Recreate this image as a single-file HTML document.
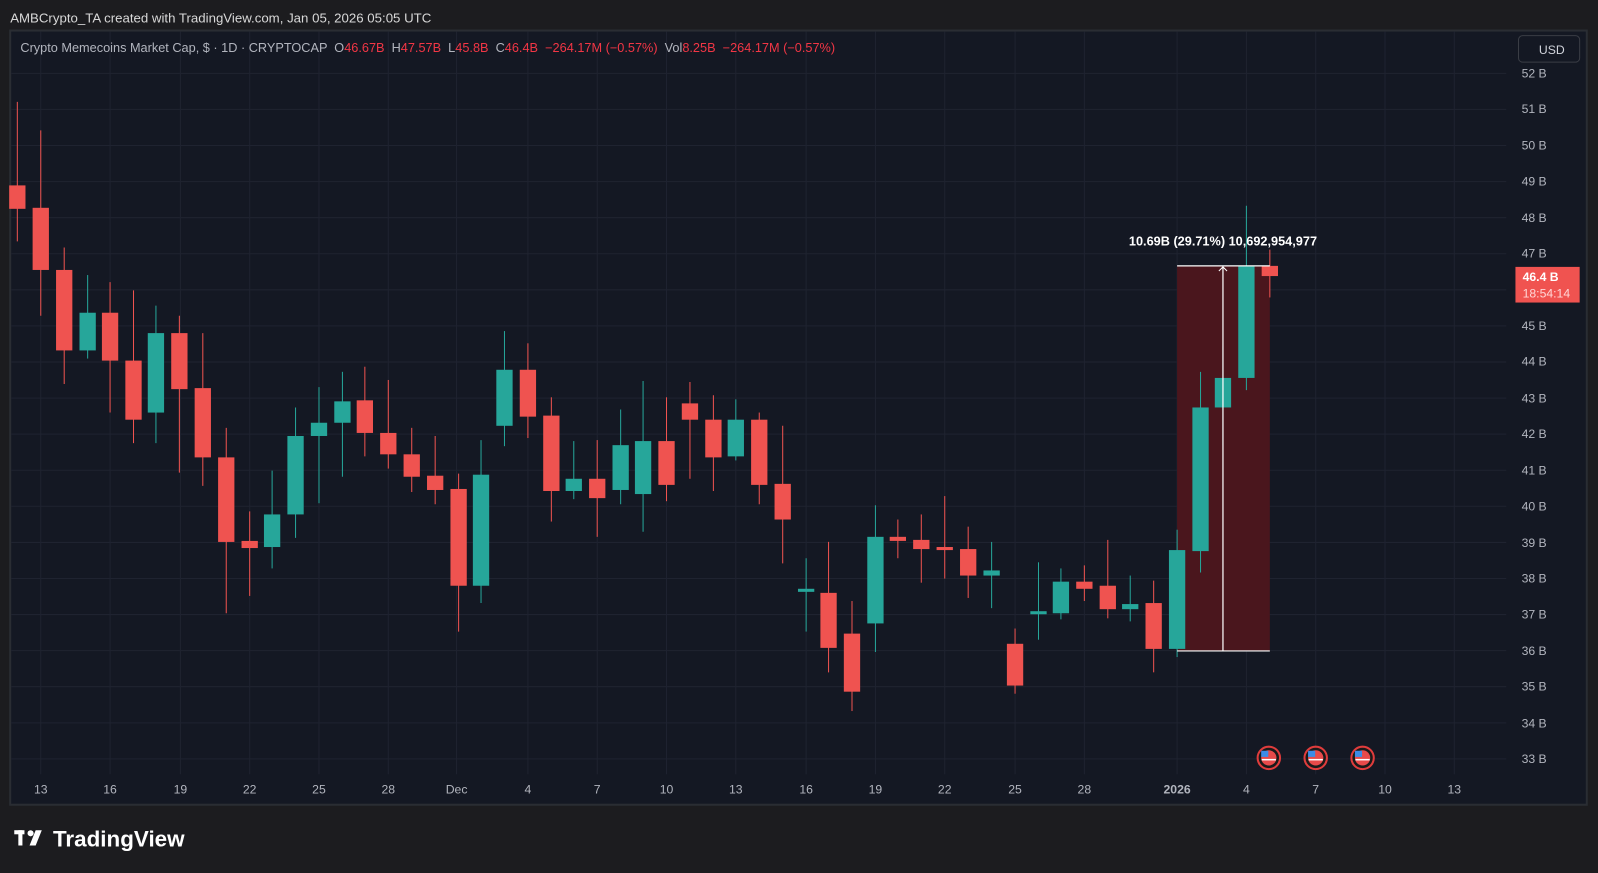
<!DOCTYPE html>
<html><head><meta charset="utf-8"><style>
html,body{margin:0;padding:0;background:#1c1c1f;width:1598px;height:873px;overflow:hidden}
svg{display:block}
text{font-family:"Liberation Sans",sans-serif}
</style></head><body>
<svg width="1598" height="873" viewBox="0 0 1568 857" preserveAspectRatio="none" xmlns="http://www.w3.org/2000/svg">
<rect x="0" y="0" width="1568" height="857" fill="#1c1c1f"/>
<text x="10" y="22" fill="#d8d8d8" font-size="13">AMBCrypto_TA created with TradingView.com, Jan 05, 2026 05:05 UTC</text>
<rect x="10" y="30" width="1547" height="760" fill="#141823" stroke="#2a2d33" stroke-width="2"/>
<g stroke="#1f2330" stroke-width="1">
<line x1="11" x2="1478" y1="72" y2="72"/><line x1="11" x2="1478" y1="107.4" y2="107.4"/><line x1="11" x2="1478" y1="142.8" y2="142.8"/><line x1="11" x2="1478" y1="178.3" y2="178.3"/><line x1="11" x2="1478" y1="213.7" y2="213.7"/><line x1="11" x2="1478" y1="249.1" y2="249.1"/><line x1="11" x2="1478" y1="284.5" y2="284.5"/><line x1="11" x2="1478" y1="319.9" y2="319.9"/><line x1="11" x2="1478" y1="355.4" y2="355.4"/><line x1="11" x2="1478" y1="390.8" y2="390.8"/><line x1="11" x2="1478" y1="426.2" y2="426.2"/><line x1="11" x2="1478" y1="461.6" y2="461.6"/><line x1="11" x2="1478" y1="497" y2="497"/><line x1="11" x2="1478" y1="532.5" y2="532.5"/><line x1="11" x2="1478" y1="567.9" y2="567.9"/><line x1="11" x2="1478" y1="603.3" y2="603.3"/><line x1="11" x2="1478" y1="638.7" y2="638.7"/><line x1="11" x2="1478" y1="674.1" y2="674.1"/><line x1="11" x2="1478" y1="709.6" y2="709.6"/><line x1="11" x2="1478" y1="745" y2="745"/>
<line x1="40" x2="40" y1="31" y2="760"/><line x1="108" x2="108" y1="31" y2="760"/><line x1="177" x2="177" y1="31" y2="760"/><line x1="245" x2="245" y1="31" y2="760"/><line x1="313" x2="313" y1="31" y2="760"/><line x1="381" x2="381" y1="31" y2="760"/><line x1="448" x2="448" y1="31" y2="760"/><line x1="518" x2="518" y1="31" y2="760"/><line x1="586" x2="586" y1="31" y2="760"/><line x1="654" x2="654" y1="31" y2="760"/><line x1="722" x2="722" y1="31" y2="760"/><line x1="791" x2="791" y1="31" y2="760"/><line x1="859" x2="859" y1="31" y2="760"/><line x1="927" x2="927" y1="31" y2="760"/><line x1="996" x2="996" y1="31" y2="760"/><line x1="1064" x2="1064" y1="31" y2="760"/><line x1="1155" x2="1155" y1="31" y2="760"/><line x1="1223" x2="1223" y1="31" y2="760"/><line x1="1291" x2="1291" y1="31" y2="760"/><line x1="1359" x2="1359" y1="31" y2="760"/><line x1="1427" x2="1427" y1="31" y2="760"/>
</g>
<rect x="1155" y="261" width="91" height="378" fill="#4a161d"/>
<g stroke-width="1">
<g stroke="#ef5350" fill="#ef5350">
<line x1="17" x2="17" y1="100" y2="237"/><rect x="9" y="182" width="16" height="23" stroke="none"/>
<line x1="40" x2="40" y1="128" y2="310"/><rect x="32" y="204" width="16" height="61" stroke="none"/>
<line x1="63" x2="63" y1="243" y2="377"/><rect x="55" y="265" width="16" height="79" stroke="none"/>
<line x1="108" x2="108" y1="277" y2="405"/><rect x="100" y="307" width="16" height="47" stroke="none"/>
<line x1="131" x2="131" y1="285" y2="435"/><rect x="123" y="354" width="16" height="58" stroke="none"/>
<line x1="176" x2="176" y1="310" y2="464"/><rect x="168" y="327" width="16" height="55" stroke="none"/>
<line x1="199" x2="199" y1="327" y2="477"/><rect x="191" y="381" width="16" height="68" stroke="none"/>
<line x1="222" x2="222" y1="420" y2="602"/><rect x="214" y="449" width="16" height="83" stroke="none"/>
<line x1="245" x2="245" y1="502" y2="585"/><rect x="237" y="531" width="16" height="7" stroke="none"/>
<line x1="358" x2="358" y1="360" y2="448"/><rect x="350" y="393" width="16" height="32" stroke="none"/>
<line x1="381" x2="381" y1="373" y2="460"/><rect x="373" y="425" width="16" height="21" stroke="none"/>
<line x1="404" x2="404" y1="420" y2="483"/><rect x="396" y="446" width="16" height="22" stroke="none"/>
<line x1="427" x2="427" y1="428" y2="495"/><rect x="419" y="467" width="16" height="14" stroke="none"/>
<line x1="450" x2="450" y1="465" y2="620"/><rect x="442" y="480" width="16" height="95" stroke="none"/>
<line x1="518" x2="518" y1="337" y2="430"/><rect x="510" y="363" width="16" height="46" stroke="none"/>
<line x1="541" x2="541" y1="390" y2="512"/><rect x="533" y="408" width="16" height="74" stroke="none"/>
<line x1="586" x2="586" y1="432" y2="527"/><rect x="578" y="470" width="16" height="19" stroke="none"/>
<line x1="654" x2="654" y1="390" y2="492"/><rect x="646" y="433" width="16" height="43" stroke="none"/>
<line x1="677" x2="677" y1="375" y2="470"/><rect x="669" y="396" width="16" height="16" stroke="none"/>
<line x1="700" x2="700" y1="388" y2="482"/><rect x="692" y="412" width="16" height="37" stroke="none"/>
<line x1="745" x2="745" y1="405" y2="495"/><rect x="737" y="412" width="16" height="64" stroke="none"/>
<line x1="768" x2="768" y1="418" y2="553"/><rect x="760" y="475" width="16" height="35" stroke="none"/>
<line x1="813" x2="813" y1="532" y2="660"/><rect x="805" y="582" width="16" height="54" stroke="none"/>
<line x1="836" x2="836" y1="590" y2="698"/><rect x="828" y="622" width="16" height="57" stroke="none"/>
<line x1="881" x2="881" y1="510" y2="548"/><rect x="873" y="527" width="16" height="4" stroke="none"/>
<line x1="904" x2="904" y1="505" y2="572"/><rect x="896" y="530" width="16" height="9" stroke="none"/>
<line x1="927" x2="927" y1="487" y2="568"/><rect x="919" y="537" width="16" height="3" stroke="none"/>
<line x1="950" x2="950" y1="517" y2="587"/><rect x="942" y="539" width="16" height="26" stroke="none"/>
<line x1="996" x2="996" y1="617" y2="681"/><rect x="988" y="632" width="16" height="41" stroke="none"/>
<line x1="1064" x2="1064" y1="555" y2="590"/><rect x="1056" y="571" width="16" height="7" stroke="none"/>
<line x1="1087" x2="1087" y1="530" y2="607"/><rect x="1079" y="575" width="16" height="23" stroke="none"/>
<line x1="1132" x2="1132" y1="570" y2="660"/><rect x="1124" y="592" width="16" height="45" stroke="none"/>
<line x1="1246" x2="1246" y1="245" y2="292"/><rect x="1238" y="261" width="16" height="10" stroke="none"/>
</g>
<g stroke="#26a69a" fill="#26a69a">
<line x1="86" x2="86" y1="270" y2="352"/><rect x="78" y="307" width="16" height="37" stroke="none"/>
<line x1="153" x2="153" y1="300" y2="435"/><rect x="145" y="327" width="16" height="78" stroke="none"/>
<line x1="267" x2="267" y1="462" y2="558"/><rect x="259" y="505" width="16" height="32" stroke="none"/>
<line x1="290" x2="290" y1="400" y2="528"/><rect x="282" y="428" width="16" height="77" stroke="none"/>
<line x1="313" x2="313" y1="380" y2="494"/><rect x="305" y="415" width="16" height="13" stroke="none"/>
<line x1="336" x2="336" y1="365" y2="468"/><rect x="328" y="394" width="16" height="21" stroke="none"/>
<line x1="472" x2="472" y1="432" y2="592"/><rect x="464" y="466" width="16" height="109" stroke="none"/>
<line x1="495" x2="495" y1="325" y2="438"/><rect x="487" y="363" width="16" height="55" stroke="none"/>
<line x1="563" x2="563" y1="433" y2="490"/><rect x="555" y="470" width="16" height="12" stroke="none"/>
<line x1="609" x2="609" y1="402" y2="495"/><rect x="601" y="437" width="16" height="44" stroke="none"/>
<line x1="631" x2="631" y1="374" y2="522"/><rect x="623" y="433" width="16" height="52" stroke="none"/>
<line x1="722" x2="722" y1="392" y2="452"/><rect x="714" y="412" width="16" height="36" stroke="none"/>
<line x1="791" x2="791" y1="548" y2="620"/><rect x="783" y="578" width="16" height="3" stroke="none"/>
<line x1="859" x2="859" y1="496" y2="640"/><rect x="851" y="527" width="16" height="85" stroke="none"/>
<line x1="973" x2="973" y1="532" y2="597"/><rect x="965" y="560" width="16" height="5" stroke="none"/>
<line x1="1019" x2="1019" y1="552" y2="628"/><rect x="1011" y="600" width="16" height="3" stroke="none"/>
<line x1="1041" x2="1041" y1="558" y2="608"/><rect x="1033" y="571" width="16" height="31" stroke="none"/>
<line x1="1109" x2="1109" y1="565" y2="610"/><rect x="1101" y="593" width="16" height="5" stroke="none"/>
<line x1="1155" x2="1155" y1="520" y2="645"/><rect x="1147" y="540" width="16" height="97" stroke="none"/>
<line x1="1178" x2="1178" y1="365" y2="562"/><rect x="1170" y="400" width="16" height="141" stroke="none"/>
<line x1="1200" x2="1200" y1="340" y2="437"/><rect x="1192" y="371" width="16" height="29" stroke="none"/>
<line x1="1223" x2="1223" y1="202" y2="383"/><rect x="1215" y="261" width="16" height="110" stroke="none"/>
</g>
</g>
<line x1="1155" x2="1246" y1="261" y2="261" stroke="#fff" stroke-width="1.2"/>
<line x1="1155" x2="1246" y1="639" y2="639" stroke="#fff" stroke-width="1.2"/>
<line x1="1200" x2="1200" y1="262" y2="639" stroke="#fff" stroke-width="1.2"/>
<path d="M1196 266 L1200 262 L1204 266" stroke="#fff" fill="none" stroke-width="1"/>
<text x="1200" y="241" fill="#fff" font-size="12.5" font-weight="bold" text-anchor="middle">10.69B (29.71%) 10,692,954,977</text>
<text x="20" y="51" fill="#b2b5be" font-size="12.5" xml:space="preserve">Crypto Memecoins Market Cap, $ · 1D · CRYPTOCAP  O<tspan fill="#f23645">46.67B</tspan>  H<tspan fill="#f23645">47.57B</tspan>  L<tspan fill="#f23645">45.8B</tspan>  C<tspan fill="#f23645">46.4B</tspan>  <tspan fill="#f23645">−264.17M (−0.57%)</tspan>  Vol<tspan fill="#f23645">8.25B</tspan>  <tspan fill="#f23645">−264.17M (−0.57%)</tspan></text>
<rect x="1490" y="35" width="60" height="26" rx="4" fill="#141823" stroke="#3a3d45"/>
<text x="1510" y="53" fill="#d1d4dc" font-size="12">USD</text>
<g fill="#b2b5be" font-size="12">
<text x="1493" y="76">52 B</text><text x="1493" y="111">51 B</text><text x="1493" y="147">50 B</text><text x="1493" y="182">49 B</text><text x="1493" y="218">48 B</text><text x="1493" y="253">47 B</text><text x="1493" y="324">45 B</text><text x="1493" y="359">44 B</text><text x="1493" y="395">43 B</text><text x="1493" y="430">42 B</text><text x="1493" y="466">41 B</text><text x="1493" y="501">40 B</text><text x="1493" y="537">39 B</text><text x="1493" y="572">38 B</text><text x="1493" y="607">37 B</text><text x="1493" y="643">36 B</text><text x="1493" y="678">35 B</text><text x="1493" y="714">34 B</text><text x="1493" y="749">33 B</text>
</g>
<rect x="1487" y="262" width="63" height="35" fill="#f05350"/>
<text x="1494" y="276" fill="#fff" font-size="12" font-weight="bold">46.4 B</text>
<text x="1494" y="292" fill="#ffd6d6" font-size="12">18:54:14</text>
<g fill="#b2b5be" font-size="12" text-anchor="middle">
<text x="40" y="779">13</text><text x="108" y="779">16</text><text x="177" y="779">19</text><text x="245" y="779">22</text><text x="313" y="779">25</text><text x="381" y="779">28</text><text x="448" y="779">Dec</text><text x="518" y="779">4</text><text x="586" y="779">7</text><text x="654" y="779">10</text><text x="722" y="779">13</text><text x="791" y="779">16</text><text x="859" y="779">19</text><text x="927" y="779">22</text><text x="996" y="779">25</text><text x="1064" y="779">28</text><text x="1155" y="779" font-weight="bold">2026</text><text x="1223" y="779">4</text><text x="1291" y="779">7</text><text x="1359" y="779">10</text><text x="1427" y="779">13</text>
</g>
<g>
<circle cx="1245" cy="744" r="11" fill="#1a1a1a" stroke="#e03c3c" stroke-width="2"/><circle cx="1245" cy="744" r="7.5" fill="#e84a4a"/><rect x="1237.5" y="737" width="7" height="6" fill="#3c8ce7"/><rect x="1238" y="745" width="14" height="1.5" fill="#fff"/>
<circle cx="1291" cy="744" r="11" fill="#1a1a1a" stroke="#e03c3c" stroke-width="2"/><circle cx="1291" cy="744" r="7.5" fill="#e84a4a"/><rect x="1283.5" y="737" width="7" height="6" fill="#3c8ce7"/><rect x="1284" y="745" width="14" height="1.5" fill="#fff"/>
<circle cx="1337" cy="744" r="11" fill="#1a1a1a" stroke="#e03c3c" stroke-width="2"/><circle cx="1337" cy="744" r="7.5" fill="#e84a4a"/><rect x="1329.5" y="737" width="7" height="6" fill="#3c8ce7"/><rect x="1330" y="745" width="14" height="1.5" fill="#fff"/>
</g>
<g fill="#fff"><rect x="14" y="815" width="10" height="4"/><rect x="18" y="815" width="4" height="15"/><circle cx="30" cy="818" r="3"/><path d="M35 815 L41 815 L35 830 L29 830 Z"/></g>
<text x="52" y="831" fill="#fff" font-size="22" font-weight="bold">TradingView</text>
</svg>
</body></html>
